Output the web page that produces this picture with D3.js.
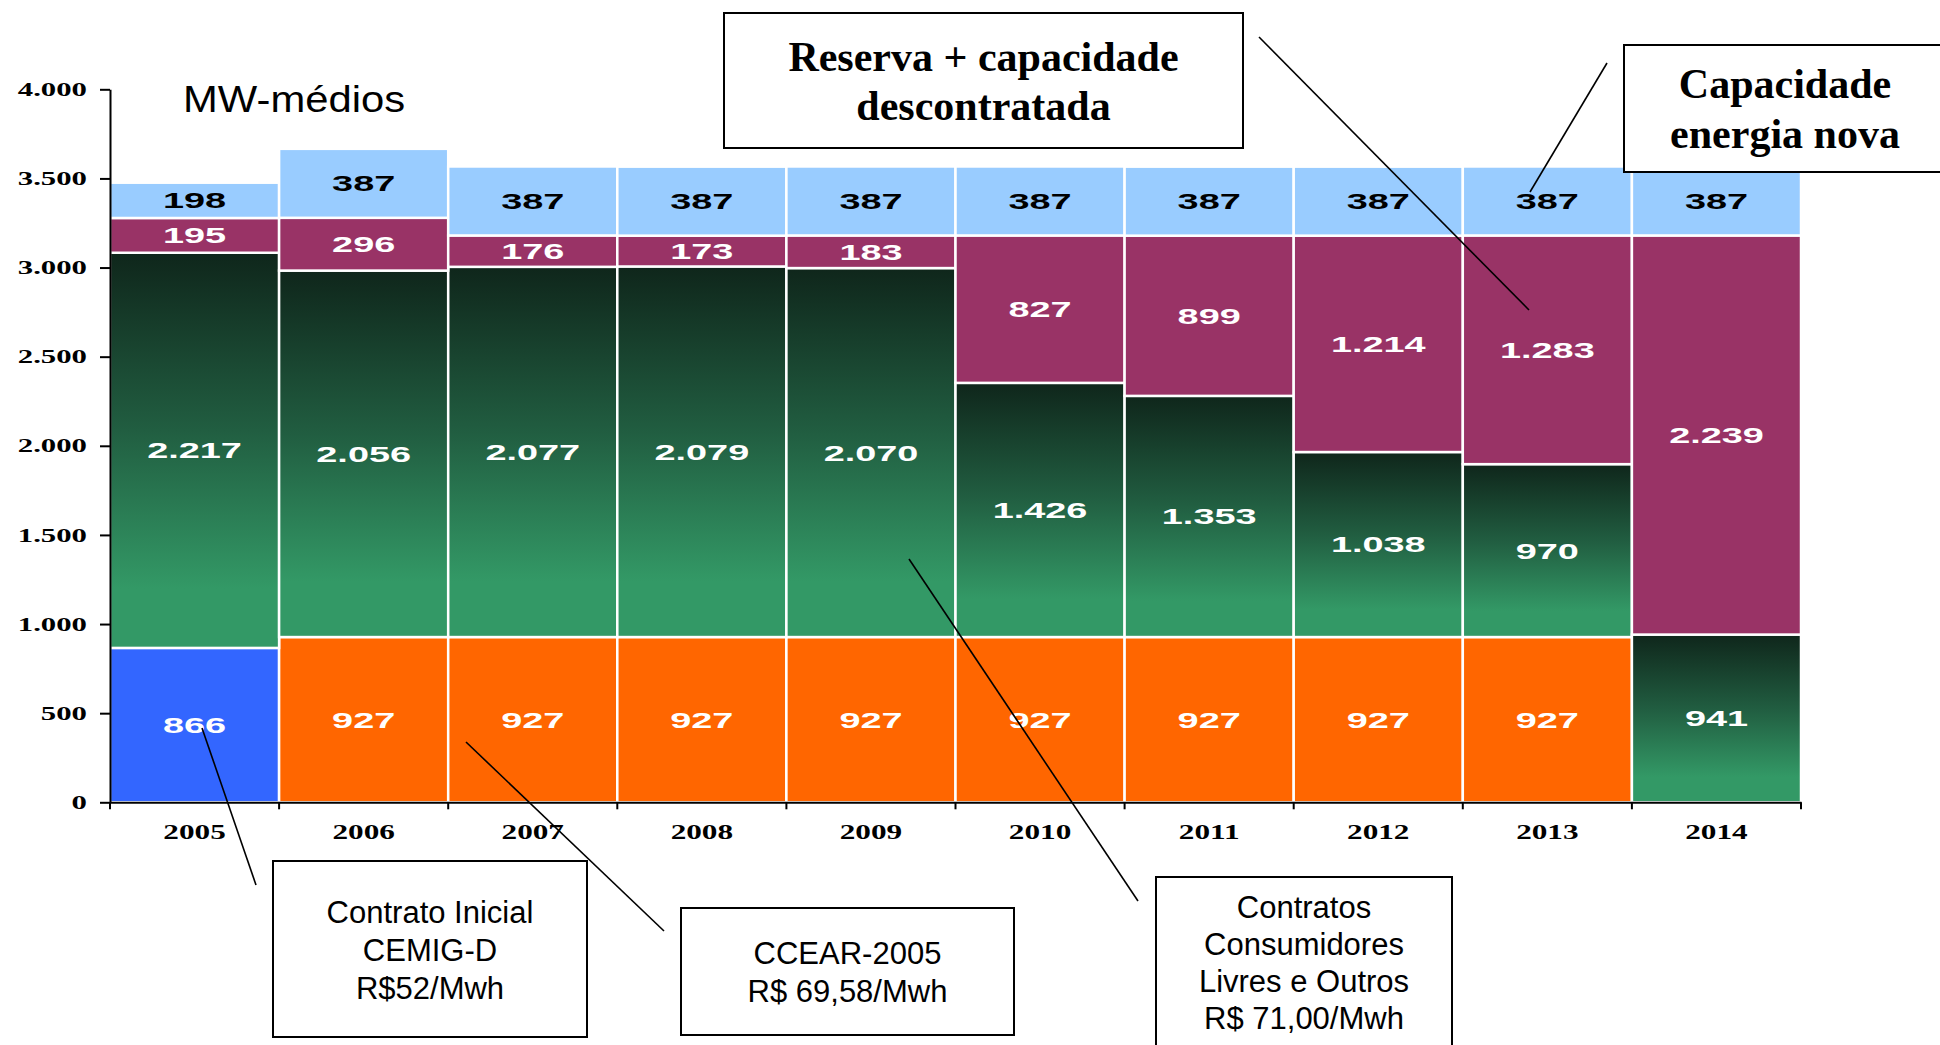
<!DOCTYPE html>
<html>
<head>
<meta charset="utf-8">
<script src="https://cdn.jsdelivr.net/npm/d3@7"></script>
<style>
  html, body { margin: 0; padding: 0; background: #ffffff; }
  svg { display: block; }
</style>
</head>
<body>
<svg id="chart" width="1940" height="1045"></svg>
<script>
// ---------------- DATA ----------------
const years = ["2005","2006","2007","2008","2009","2010","2011","2012","2013","2014"];
const contratoInicial      = [866, 0, 0, 0, 0, 0, 0, 0, 0, 0];
const ccear2005            = [0, 927, 927, 927, 927, 927, 927, 927, 927, 0];
const consumidoresLivres   = [2217, 2056, 2077, 2079, 2070, 1426, 1353, 1038, 970, 941];
const reservaDescontratada = [195, 296, 176, 173, 183, 827, 899, 1214, 1283, 2239];
const energiaNova          = [198, 387, 387, 387, 387, 387, 387, 387, 387, 387];
const seriesKeys = ["contratoInicial","ccear2005","consumidoresLivres","reservaDescontratada","energiaNova"];
const yTicks = [0, 500, 1000, 1500, 2000, 2500, 3000, 3500, 4000];
const yTitle = "MW-médios";
const boxReserva = ["Reserva + capacidade", "descontratada"];
const boxNova = ["Capacidade", "energia nova"];
const boxInicial = ["Contrato Inicial", "CEMIG-D", "R$52/Mwh"];
const boxCcear = ["CCEAR-2005", "R$ 69,58/Mwh"];
const boxLivres = ["Contratos", "Consumidores", "Livres e Outros", "R$ 71,00/Mwh"];

// ---------------- SETUP ----------------
const svg = d3.select("#chart");
const locale = d3.formatLocale({decimal: ",", thousands: ".", grouping: [3], currency: ["R$", ""]});
const fmt = locale.format(",d");

const colors = {
  contratoInicial: "#3366FF",
  ccear2005: "#FF6600",
  consumidoresLivres: "url(#greenGrad)",
  reservaDescontratada: "#993366",
  energiaNova: "#99CCFF"
};
const labelColor = {
  contratoInicial: "#ffffff",
  ccear2005: "#ffffff",
  consumidoresLivres: "#ffffff",
  reservaDescontratada: "#ffffff",
  energiaNova: "#000000"
};

const defs = svg.append("defs");
const grad = defs.append("linearGradient").attr("id", "greenGrad")
  .attr("x1", 0).attr("y1", 0).attr("x2", 0).attr("y2", 1);
grad.append("stop").attr("offset", "0%").attr("stop-color", "#0f261b");
grad.append("stop").attr("offset", "45%").attr("stop-color", "#215e41");
grad.append("stop").attr("offset", "85%").attr("stop-color", "#339966");
grad.append("stop").attr("offset", "100%").attr("stop-color", "#339966");

const x = d3.scaleBand().domain(years).range([110, 1801]).padding(0);
const y = d3.scaleLinear().domain([0, 4000]).range([802.3, 89.3]);

const rows = years.map((yr, i) => ({
  year: yr,
  contratoInicial: contratoInicial[i],
  ccear2005: ccear2005[i],
  consumidoresLivres: consumidoresLivres[i],
  reservaDescontratada: reservaDescontratada[i],
  energiaNova: energiaNova[i]
}));
const stacked = d3.stack().keys(seriesKeys)(rows);

// ---------------- BARS ----------------
const gBars = svg.append("g");
stacked.forEach(layer => {
  const key = layer.key;
  const segs = layer.map(d => ({key, year: d.data.year, y0: d[0], y1: d[1], v: d.data[key]})).filter(d => d.v > 0);
  gBars.selectAll(null).data(segs).enter().append("rect")
    .attr("x", d => x(d.year))
    .attr("width", x.bandwidth())
    .attr("y", d => y(d.y1))
    .attr("height", d => y(d.y0) - y(d.y1))
    .attr("fill", colors[key])
    .attr("stroke", "#ffffff")
    .attr("stroke-width", 2.5);
  gBars.selectAll(null).data(segs).enter().append("text")
    .attr("transform", d => `translate(${x(d.year) + x.bandwidth() / 2},${(y(d.y0) + y(d.y1)) / 2}) scale(1.72,1)`)
    .attr("text-anchor", "middle")
    .attr("dy", "0.36em")
    .attr("font-family", "'Liberation Sans', Arial, sans-serif")
    .attr("font-weight", "bold")
    .attr("font-size", 22)
    .attr("fill", labelColor[key])
    .text(d => fmt(d.v));
});

// ---------------- AXES ----------------
const yAxis = d3.axisLeft(y).tickValues(yTicks).tickSize(10).tickSizeOuter(0).tickFormat(fmt);
const gy = svg.append("g").attr("transform", "translate(110,0)").call(yAxis);
gy.select(".domain").attr("stroke", "#000").attr("stroke-width", 2);
gy.selectAll(".tick line").attr("stroke", "#000").attr("stroke-width", 2);
gy.selectAll(".tick text")
  .attr("x", -23 / 1.62)
  .attr("transform", "scale(1.62,1)")
  .attr("font-family", "'Liberation Serif', 'Times New Roman', serif")
  .attr("font-weight", "bold")
  .attr("font-size", 19)
  .attr("fill", "#000");

const xAxis = d3.axisBottom(x).tickSize(0).tickSizeOuter(0);
const gx = svg.append("g").attr("transform", `translate(0,${y(0)})`).call(xAxis);
gx.select(".domain").attr("stroke", "#000").attr("stroke-width", 2);
gx.selectAll(".tick text")
  .attr("y", 37).attr("dy", 0)
  .attr("transform", "scale(1.42,1)")
  .attr("font-family", "'Liberation Serif', 'Times New Roman', serif")
  .attr("font-weight", "bold")
  .attr("font-size", 22)
  .attr("fill", "#000");
// boundary ticks
const bounds = years.map(d => x(d)).concat([x.range()[1]]);
gx.selectAll(null).data(bounds).enter().append("line")
  .attr("x1", d => d).attr("x2", d => d)
  .attr("y1", 0).attr("y2", 7)
  .attr("stroke", "#000").attr("stroke-width", 2);

// y title
svg.append("text")
  .attr("transform", "translate(183,112) scale(1.13,1)")
  .attr("font-family", "'Liberation Sans', Arial, sans-serif")
  .attr("font-size", 37)
  .attr("fill", "#000")
  .text(yTitle);

// ---------------- CALLOUTS ----------------
const gAnn = svg.append("g");
function leader(x1, y1, x2, y2) {
  gAnn.append("line").attr("x1", x1).attr("y1", y1).attr("x2", x2).attr("y2", y2)
    .attr("stroke", "#000").attr("stroke-width", 1.6);
}
function box(x0, y0, x1, y1, lines, baselines, font, size, weight) {
  gAnn.append("rect").attr("x", x0).attr("y", y0).attr("width", x1 - x0).attr("height", y1 - y0)
    .attr("fill", "#fff").attr("stroke", "#000").attr("stroke-width", 2);
  const cx = (x0 + x1) / 2;
  lines.forEach((t, i) => {
    gAnn.append("text").attr("x", cx).attr("y", baselines[i])
      .attr("text-anchor", "middle")
      .attr("font-family", font).attr("font-size", size).attr("font-weight", weight)
      .attr("fill", "#000").text(t);
  });
}
const serif = "'Liberation Serif', 'Times New Roman', serif";
const sans = "'Liberation Sans', Arial, sans-serif";

leader(1259, 37, 1529, 310);
leader(1607, 63, 1530, 192);
leader(202, 728, 256, 885);
leader(466, 742, 664, 931);
leader(909, 559, 1138, 901);

box(724, 13, 1243, 148, boxReserva, [71, 120], serif, 42, "bold");
box(1624, 45, 1946, 172, boxNova, [98, 148], serif, 42, "bold");
box(273, 861, 587, 1037, boxInicial, [923, 961, 999], sans, 31, "normal");
box(681, 908, 1014, 1035, boxCcear, [964, 1002], sans, 31, "normal");
box(1156, 877, 1452, 1052, boxLivres, [918, 955, 992, 1029], sans, 31, "normal");
</script>
</body>
</html>
